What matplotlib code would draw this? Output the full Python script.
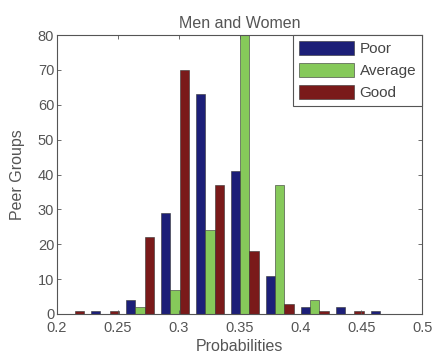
import matplotlib
matplotlib.use("Agg")
import matplotlib.pyplot as plt
import numpy as np

centers = [0.2107, 0.2394, 0.2681, 0.2968, 0.3255, 0.3542, 0.3829, 0.4116, 0.4403, 0.4690]
poor = [0, 1, 4, 29, 63, 41, 11, 2, 2, 1]
average = [0, 0, 2, 7, 24, 80, 37, 4, 0, 0]
good = [1, 1, 22, 70, 37, 18, 3, 1, 1, 0]
series_names = ["Poor", "Average", "Good"]
colors = ["#1c1f78", "#86c95a", "#7a1a1a"]

plt.rcParams['font.family'] = ['Liberation Sans', 'DejaVu Sans']
fig = plt.figure(figsize=(4.35, 3.62), dpi=100)
ax = fig.add_axes([0.131, 0.1326, 0.840, 0.7704])

c = np.array(centers)
step = c[1] - c[0]
w = step * 0.8 / 3
for i, (vals, name, col) in enumerate(zip([poor, average, good], series_names, colors)):
    ax.bar(c + (i - 1) * w, vals, width=w, color=col, edgecolor="#333333",
           linewidth=0.4, label=name)

ax.set_xlim(0.2, 0.5)
ax.set_ylim(0, 80)
ax.set_xticks([0.2, 0.25, 0.3, 0.35, 0.4, 0.45, 0.5])
ax.set_xticklabels(["0.2", "0.25", "0.3", "0.35", "0.4", "0.45", "0.5"])
ax.set_yticks(range(0, 81, 10))
ax.tick_params(direction="in", top=True, right=True, labelsize=10.5, colors="#555555",
               length=3, width=0.6, pad=2)
ax.tick_params(axis="x", pad=5)
for s in ax.spines.values():
    s.set_color("#555555")
    s.set_linewidth(0.8)
ax.set_title("Men and Women", fontsize=11.5, color="#555555", pad=5)
ax.set_xlabel("Probabilities", fontsize=11.5, color="#555555", labelpad=3)
ax.set_ylabel("Peer Groups", fontsize=11.5, color="#555555", labelpad=9)
leg = ax.legend(loc="upper right", fontsize=11, handlelength=3.6, handleheight=1.0,
                fancybox=False, framealpha=1, edgecolor="#555555",
                borderaxespad=0.0, labelspacing=0.45, handletextpad=0.35, borderpad=0.4)
leg.get_frame().set_linewidth(0.8)
for t in leg.get_texts():
    t.set_color("#444444")

fig.savefig("out.png", dpi=100)
